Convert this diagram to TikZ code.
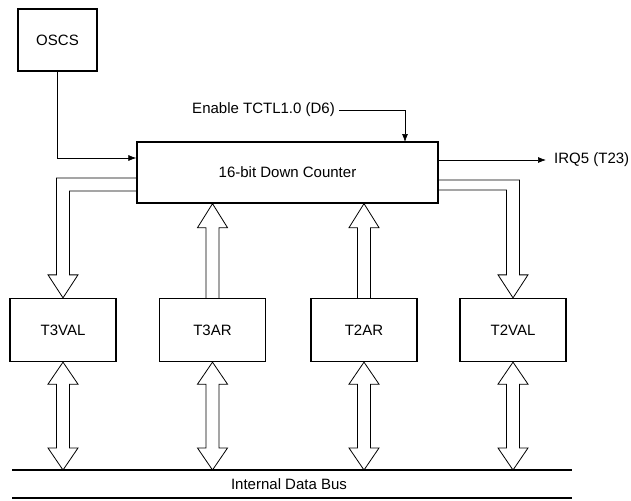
\documentclass[tikz,border=0pt]{standalone}
\usepackage{fontspec}
\setmainfont{Liberation Sans}
\usetikzlibrary{calc,arrows.meta}
\newcommand{\labelSize}[0]{\fontsize{15}{18}\selectfont}

\begin{document}
\begin{tikzpicture}[x=1pt, y=-1pt]
  \tikzset{regbox/.style={draw, line width=1.3pt, inner sep=0pt, font=\labelSize},
           sig/.style={line width=0.7pt, -{Latex[length=8pt,width=6pt]}},
           busline/.style={line width=0.8pt, line join=miter},
           plain/.style={font=\labelSize, inner sep=0pt}}
  \useasboundingbox (0,0) rectangle (631,500);

  % blocks
  \node[regbox, minimum width=79pt, minimum height=62pt] (oscs) at (57.5,40) {OSCS};
  \node[regbox, minimum width=301pt, minimum height=61pt] (ctr) at (287.5,172.5) {16-bit Down Counter};
  \node[regbox, minimum width=106pt, minimum height=63pt] (T3VAL) at (63,330) {T3VAL};
  \node[regbox, minimum width=106pt, minimum height=63pt] (T3AR) at (212.5,330) {T3AR};
  \node[regbox, minimum width=106pt, minimum height=63pt] (T2AR) at (364,330) {T2AR};
  \node[regbox, minimum width=106pt, minimum height=63pt] (T2VAL) at (513,330) {T2VAL};

  % control and interrupt lines
  \node[plain, anchor=east] (en) at (335,110) {Enable TCTL1.0 (D6)};
  \coordinate (entap) at (405,142);
  \draw[sig] (en.east) ++(4,0) -| (entap);
  \draw[sig] (oscs.south) |- ($(ctr.west)+(0,-14.5)$);
  \node[plain, anchor=west] (irq) at (554,160) {IRQ5 (T23)};
  \draw[sig] ($(ctr.east)+(0,-12.5)$) -- ($(irq.west)+(-8,0)$);

  % counter to value registers
  \draw[busline] ($(ctr.west)+(0,5.5)$) -| ($(T3VAL.north)+(-6.5,-23)$) -- ++(-8.5,0)
    -- (T3VAL.north) -- ++(15,-23) -- ++(-8.5,0) |- ($(ctr.west)+(0,18.5)$);
  \draw[busline] ($(ctr.east)+(0,7.5)$) -| ($(T2VAL.north)+(6.5,-23)$) -- ++(8.5,0)
    -- (T2VAL.north) -- ++(-15,-23) -- ++(8.5,0) |- ($(ctr.east)+(0,17.5)$);

  % reload registers to counter
  \foreach \reg in {T3AR,T2AR} {
    \draw[busline] ($(\reg.north)+(-6.5,0)$) -- ($(\reg.north |- ctr.south)+(-6.5,24)$) -- ++(-8.5,0)
      -- (\reg.north |- ctr.south) -- ++(15,24) -- ++(-8.5,0) -- ($(\reg.north)+(6.5,0)$);
  }

  % internal data bus
  \coordinate (busL) at (12,470);
  \coordinate (busR) at (572,470);
  \coordinate (baseL) at (12,498);
  \coordinate (baseR) at (572,498);
  \draw[line width=1.5pt] (busL) -- (busR);
  \draw[line width=2.5pt] (baseL) -- (baseR);
  \node[plain] (busname) at (289,484) {Internal Data Bus};

  \foreach \reg in {T3VAL,T3AR,T2AR,T2VAL} {
    \draw[busline] (\reg.south) -- ++(15,22) -- ++(-8.5,0) -- ($(\reg.south |- busL)+(6.5,-22)$)
      -- ++(8.5,0) -- (\reg.south |- busL) -- ++(-15,-22) -- ++(8.5,0)
      -- ($(\reg.south)+(-6.5,22)$) -- ++(-8.5,0) -- cycle;
  }
\end{tikzpicture}
\end{document}
